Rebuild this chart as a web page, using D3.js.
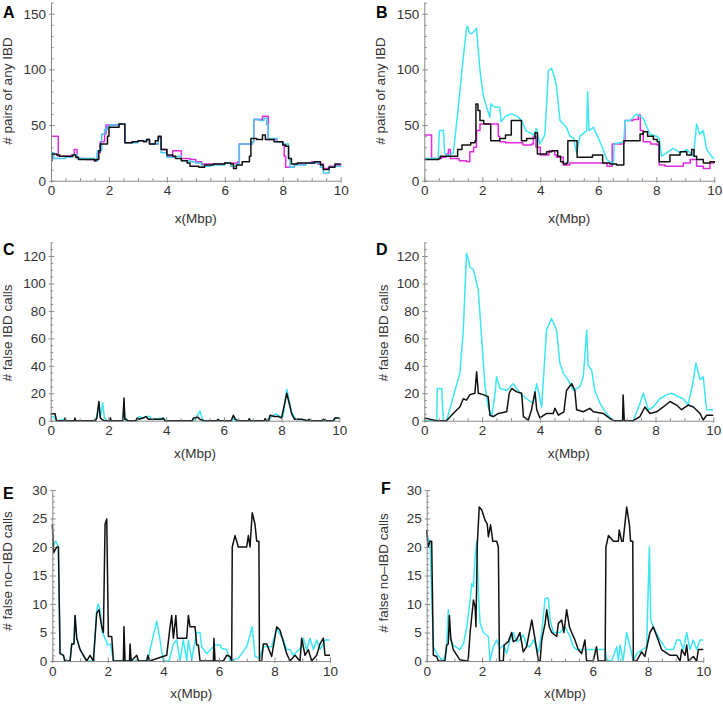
<!DOCTYPE html>
<html><head><meta charset="utf-8">
<script src="https://cdn.jsdelivr.net/npm/d3@7"></script>
<style>
body{margin:0;background:#fff;}
svg{font-family:"Liberation Sans",Arial,Helvetica,sans-serif;}
</style></head>
<body><svg id="c" width="723" height="706"></svg>
<script>
// ---------- data: [x (Mbp), value] ----------
const xTicks=[0,2,4,6,8,10];
const A_magenta=[[0,40],[0.2,40],[0.25,22],[0.5,22],[0.7,23],[0.8,28],[0.9,20],[1.2,19],[1.5,18],[1.6,25],[1.7,35],[1.85,42],[1.9,50],[2.1,50],[2.35,51],[2.5,51],[2.55,34],[2.8,35],[3.0,36],[3.3,37],[3.4,33],[3.7,39],[3.8,28],[4.0,22],[4.2,27],[4.4,27],[4.5,20],[4.8,19],[5.0,17],[5.2,15],[5.5,15],[6.0,16],[6.3,16],[6.45,17],[6.5,33],[6.95,35],[7.0,55],[7.2,55],[7.3,58],[7.45,58],[7.5,37],[7.8,35],[8.0,32],[8.05,22],[8.1,12],[8.3,12],[8.4,15],[8.8,16],[9.0,17],[9.2,15],[9.4,11],[9.6,13],[9.8,14],[10,15]];
const A_cyan=[[0,25],[0.1,20],[0.5,21],[0.75,23],[0.9,20],[1.5,18],[1.6,27],[1.75,42],[1.85,46],[1.95,49],[2.05,50],[2.35,51],[2.5,51],[2.55,34],[3.0,36],[3.3,37],[3.4,33],[3.7,38],[3.8,25],[4.0,21],[4.3,22],[4.5,18],[4.8,17],[5.0,16],[5.2,13],[5.5,14],[6.0,16],[6.2,13],[6.4,15],[6.5,33],[6.95,35],[7.0,55],[7.2,54],[7.35,56],[7.45,50],[7.5,38],[7.8,35],[8.0,33],[8.2,20],[8.25,12],[8.4,14],[8.8,16],[9.0,16],[9.3,12],[9.4,7],[9.6,12],[9.8,13],[10,12]];
const A_black=[[0,18],[0.03,24],[0.2,23],[0.3,22],[0.6,22],[0.75,23],[0.85,21],[0.95,19],[1.5,18],[1.55,19],[1.65,27],[1.7,33],[1.85,33],[1.95,40],[2.0,48],[2.3,48],[2.35,51],[2.5,51],[2.55,34],[2.8,35],[3.0,36],[3.2,35],[3.3,37],[3.4,33],[3.6,36],[3.7,40],[3.8,28],[4.0,23],[4.2,22],[4.3,20],[4.5,18],[4.7,16],[4.8,13],[5.1,12],[5.3,14],[5.6,15],[6.0,16],[6.2,15],[6.3,11],[6.4,14],[6.6,17],[6.85,22],[6.9,38],[7.1,37],[7.3,41],[7.4,37],[7.7,35],[8.0,32],[8.1,31],[8.2,20],[8.3,15],[8.5,16],[8.9,16],[9.1,17],[9.3,14],[9.4,10],[9.6,12],[9.8,15],[10,15]];

const B_magenta=[[0,41],[0.22,41],[0.25,20],[0.6,21],[0.75,24],[0.83,28],[0.9,20],[1.2,18],[1.46,17],[1.57,26],[1.7,30],[1.8,45],[1.92,51],[2.3,51],[2.5,51],[2.55,40],[2.6,35],[2.8,34],[3.1,34],[3.4,32],[3.7,33],[3.76,40],[3.85,30],[4.0,23],[4.3,27],[4.5,23],[4.56,21],[4.79,14],[5.02,16],[5.6,16],[6.06,16],[6.3,13],[6.4,13],[6.48,33],[6.88,35],[6.92,54],[7.2,55],[7.38,59],[7.45,45],[7.55,35],[7.8,33],[8.03,32],[8.1,14],[8.3,13],[8.6,13],[8.93,16],[9.17,19],[9.39,13],[9.62,11],[9.85,16],[10,16]];
const B_cyan=[[0,20],[0.48,20],[0.52,45],[0.66,45],[0.7,25],[0.83,22],[1.0,25],[1.15,60],[1.3,100],[1.46,138],[1.49,139],[1.55,133],[1.63,132],[1.75,135],[1.8,137],[1.92,99],[2.03,77],[2.15,66],[2.26,57],[2.3,69],[2.44,66],[2.6,66],[2.65,53],[2.8,58],[3.0,60],[3.2,58],[3.36,54],[3.5,45],[3.78,41],[3.87,47],[3.98,33],[4.1,38],[4.16,42],[4.28,99],[4.39,101],[4.5,92],[4.56,84],[4.68,54],[4.9,48],[5.02,40],[5.15,38],[5.25,25],[5.37,40],[5.6,45],[5.63,80],[5.68,45],[5.83,48],[5.94,42],[6.17,28],[6.29,19],[6.52,15],[6.55,33],[6.88,35],[6.92,54],[7.09,54],[7.32,60],[7.55,56],[7.78,42],[8.01,40],[8.1,38],[8.18,22],[8.59,29],[8.82,25],[9.05,28],[9.28,22],[9.39,51],[9.5,42],[9.62,45],[9.74,28],[9.97,20],[10,20]];
const B_black=[[0,19],[0.5,20],[0.55,22],[1.0,22],[1.15,28],[1.3,32],[1.6,34],[1.75,36],[1.78,69],[1.85,63],[1.92,54],[2.05,51],[2.27,51],[2.29,36],[2.6,38],[2.8,41],[2.95,41],[3.0,54],[3.32,54],[3.35,36],[3.53,38],[3.82,43],[3.9,24],[4.22,26],[4.4,27],[4.6,22],[4.7,17],[4.8,15],[4.9,16],[4.95,36],[5.25,36],[5.27,21],[5.6,21],[5.8,23],[6.1,23],[6.15,16],[6.4,15],[6.63,14],[6.86,14],[6.88,36],[7.2,36],[7.44,42],[7.55,44],[7.7,40],[7.9,37],[8.03,35],[8.1,17],[8.47,23],[8.82,26],[9.05,23],[9.22,28],[9.3,22],[9.39,19],[9.62,16],[9.85,17],[10,16]];

const C_cyan=[[0,3],[0.1,3],[0.2,0],[0.5,1],[0.55,0],[1.55,0],[1.6,3],[1.67,12],[1.72,2],[1.8,13],[1.86,2],[1.95,0],[2.5,0],[2.54,10],[2.58,0],[3.0,0],[3.05,3],[3.2,2],[3.3,3],[3.44,3],[3.5,1],[3.9,2],[4.0,0],[4.9,0],[5.0,1],[5.17,7],[5.25,2],[5.3,0],[6.3,0],[6.33,3],[6.4,0],[7.55,0],[7.65,3],[7.8,5],[7.95,3],[8.05,3],[8.18,23],[8.35,6],[8.5,1],[9.0,0],[9.8,0],[9.9,2],[10,2]];
const C_black=[[0,5],[0.15,5],[0.2,0],[0.48,0],[0.5,2],[0.52,0],[0.82,0],[0.84,2],[0.86,0],[1.55,0],[1.6,2],[1.67,14],[1.72,2],[1.77,1],[1.85,0],[2.05,0],[2.07,2],[2.09,0],[2.5,0],[2.54,16.5],[2.57,1],[2.63,1],[2.66,0],[2.95,0],[3.0,2],[3.05,1],[3.2,2],[3.3,3],[3.38,1],[3.6,1],[3.85,1],[3.9,2],[3.95,0],[4.9,0],[4.95,2],[5.1,2.5],[5.17,1],[5.3,0],[5.75,0],[5.8,1],[5.85,0],[6.25,0],[6.33,4],[6.4,1],[6.5,0],[6.85,0],[6.88,1.5],[6.92,0],[7.4,0],[7.43,1.5],[7.47,0],[7.55,0],[7.6,4],[7.75,3],[7.9,3],[8.0,2],[8.18,20],[8.35,5],[8.45,1],[8.7,1],[8.9,0],[8.95,1],[9.0,0],[9.4,0],[9.45,1],[9.55,0],[9.8,0],[9.85,2],[10,2]];

const D_cyan=[[0,0],[0.43,0],[0.45,23.5],[0.6,23.5],[0.66,0],[0.77,0],[1.0,17.5],[1.23,34.5],[1.35,66],[1.46,122],[1.52,118],[1.58,112],[1.7,110],[1.87,95],[1.98,61],[2.1,25],[2.21,10],[2.33,3],[2.45,20],[2.5,32],[2.62,23.5],[2.85,22],[3.08,27],[3.31,20],[3.54,16],[3.77,12.6],[3.89,27],[4.06,10],[4.23,66],[4.4,74.5],[4.58,66],[4.69,42],[4.81,34.5],[4.98,29.6],[5.16,22],[5.39,25],[5.5,32],[5.62,66],[5.67,40],[5.79,37],[5.9,22],[6.08,12.6],[6.31,5],[6.54,0],[7.23,0],[7.46,12.6],[7.58,20],[7.75,8],[7.92,10],[8.15,16],[8.39,19],[8.56,20],[8.79,17.5],[8.96,16],[9.13,11.4],[9.31,29.6],[9.4,42],[9.54,30],[9.65,32],[9.77,8],[10,8]];
const D_black=[[0,2],[0.1,1.5],[0.43,0],[0.77,0],[1.0,5.3],[1.23,10],[1.35,16],[1.46,15],[1.58,19],[1.75,20],[1.81,35.7],[1.87,20],[2.04,19],[2.21,17.5],[2.27,4],[2.39,3],[2.56,5.3],[2.85,6.5],[2.94,20],[3.02,23.5],[3.2,21],[3.37,20],[3.43,3],[3.6,0.5],[3.71,8],[3.83,21],[3.89,8],[4.0,2],[4.23,5.3],[4.46,5.3],[4.52,9],[4.64,4],[4.83,6.5],[4.92,22],[5.1,27],[5.21,22],[5.27,8],[5.5,6.5],[5.73,9],[5.85,6.5],[6.19,5.3],[6.42,1.7],[6.54,0],[6.86,0],[6.88,18.7],[6.92,0],[7.23,0],[7.46,3],[7.63,10],[7.81,5.3],[8.04,6.5],[8.27,10],[8.5,14],[8.73,11.4],[8.9,8],[9.13,11.4],[9.31,10],[9.54,5.3],[9.65,0.5],[9.77,4],[10,4]];

const E_cyan=[[0,20],[0.13,21],[0.22,20],[0.28,1.3],[0.4,1],[0.45,0],[0.64,0],[0.7,3],[0.78,3],[0.82,8],[0.88,4],[1.0,2],[1.24,0],[1.48,0],[1.6,9],[1.65,10],[1.72,9],[1.8,5],[1.9,4],[2.0,2.8],[2.1,3],[2.2,0],[3.45,0],[3.52,2],[3.76,7],[3.88,3.7],[4.0,0],[4.2,0],[4.36,3],[4.48,3.7],[4.6,0],[4.72,3.7],[4.84,0],[4.9,3.7],[5.02,0.2],[5.2,5],[5.32,5],[5.38,2.5],[5.56,1.3],[5.86,2.8],[6.04,2.8],[6.1,2.2],[6.28,2],[6.4,0],[6.7,0.5],[7.0,2.5],[7.2,6],[7.3,0.8],[7.46,0.5],[7.6,2.5],[7.9,2.5],[8.08,5.7],[8.32,3.7],[8.44,2],[8.56,2],[8.68,1],[8.98,2.5],[9.04,4],[9.16,2],[9.28,4],[9.4,2],[9.52,3.7],[9.64,2],[9.82,3.7],[10,3.7]];
const E_black=[[0,24],[0.05,19],[0.16,20],[0.22,20],[0.28,1.3],[0.4,1],[0.45,0],[0.64,0],[0.7,3],[0.78,3],[0.82,8],[0.88,4],[1.0,2],[1.24,0],[1.36,1],[1.48,0],[1.6,8.4],[1.68,9],[1.78,6],[1.84,5],[1.9,24],[1.96,24.9],[2.02,4.3],[2.14,4.3],[2.2,0],[2.56,0],[2.58,6],[2.62,0],[2.78,0],[2.8,3],[2.84,0],[3.04,1],[3.1,0],[3.4,0],[3.44,1],[3.5,0],[4.12,1],[4.24,6],[4.3,8],[4.36,4],[4.45,8],[4.5,4],[4.84,4],[4.9,8],[4.96,6],[5.14,6],[5.2,2.8],[5.26,2.8],[5.32,0],[5.8,0],[5.82,4],[5.86,0],[6.16,0],[6.28,1],[6.4,0.8],[6.46,0],[6.48,20],[6.58,22],[6.7,20],[7.0,20],[7.06,22],[7.12,20],[7.2,26],[7.3,24],[7.36,21],[7.44,21],[7.46,0],[7.54,0],[7.6,3],[7.72,3],[7.9,0.8],[8.08,6],[8.2,5.4],[8.44,1.3],[8.56,0],[8.74,1],[8.92,0],[8.98,4],[9.1,1],[9.22,2],[9.34,0],[9.52,1],[9.64,3],[9.76,4],[9.82,1],[10,1]];

const F_cyan=[[0,21.8],[0.12,21],[0.24,2.5],[0.4,1],[0.6,0],[0.72,2],[0.78,9],[0.87,3.7],[0.96,2.8],[1.2,2],[1.33,3],[1.45,6],[1.57,10.7],[1.63,13.6],[1.69,13],[1.75,18.3],[1.81,21],[1.87,11.9],[1.93,6.6],[2.05,5],[2.23,4.3],[2.29,0],[2.41,2.5],[2.53,3.7],[2.65,2.2],[2.77,2.8],[2.89,1.3],[3.01,3.7],[3.13,5],[3.25,3.4],[3.37,3.7],[3.49,4.6],[3.61,2.8],[3.73,2.5],[3.86,3.7],[4.04,1.6],[4.16,5],[4.28,11],[4.4,11],[4.46,7.2],[4.58,5],[4.82,5],[5.0,6],[5.18,4.3],[5.3,2.5],[5.42,2],[6.02,2],[6.45,2],[6.51,0.2],[6.69,0],[6.87,2.5],[6.93,0],[6.99,2.8],[7.1,0],[7.23,5],[7.35,2.5],[7.47,0],[7.59,1.3],[7.95,2.5],[8.05,20],[8.1,7.2],[8.19,6],[8.43,3.7],[8.67,2],[8.92,2],[9.04,3.7],[9.16,3.7],[9.28,2],[9.4,5],[9.52,2],[9.64,3.7],[9.76,2],[9.88,3.7],[10,3.7]];
const F_black=[[0,23],[0.05,20],[0.12,21],[0.18,21],[0.24,1],[0.36,0.8],[0.42,0],[0.66,0],[0.72,2.8],[0.78,3],[0.82,8],[0.87,4],[0.96,2],[1.2,0.2],[1.45,0],[1.5,0.2],[1.57,5],[1.69,10.7],[1.75,9.5],[1.78,6],[1.83,20.6],[1.9,27],[1.99,26.5],[2.11,24.7],[2.19,24],[2.23,21.8],[2.31,23.9],[2.39,21],[2.53,21],[2.59,20],[2.63,0],[2.77,0],[2.8,2.8],[2.95,3.4],[3.07,5],[3.13,3.4],[3.25,3.7],[3.37,5],[3.49,1.6],[3.61,2.5],[3.8,7.2],[3.92,3.7],[4.04,0],[4.1,0],[4.16,3.7],[4.28,6.6],[4.34,9],[4.43,6],[4.52,5],[4.7,4.3],[4.76,6.6],[4.88,7.2],[4.96,5],[5.06,9],[5.16,6],[5.24,5],[5.36,3.7],[5.48,2],[5.6,1.3],[5.72,3.7],[5.78,0],[6.02,0],[6.14,2.5],[6.2,0],[6.45,0],[6.48,20],[6.57,22],[6.75,21],[6.93,21],[6.96,23],[7.05,21],[7.1,21],[7.23,27],[7.33,23.9],[7.37,21],[7.45,21],[7.47,0],[7.59,0],[7.77,1.6],[7.89,0.8],[8.07,5],[8.19,6],[8.37,3.7],[8.49,2],[8.8,1],[9.04,1],[9.16,0],[9.22,2],[9.34,1],[9.4,2.8],[9.46,0],[9.64,0.8],[9.76,0],[9.82,2],[10,2]];

// ---------- layout ----------
const CYAN="#3ee6f2", CYAN_A="#46c8f2", MAG="#e22be0", BLK="#111111";
const panels=[
 {L:"A",x0:51,x1:340.7,yb:180.7,yt:2.6,ymax:160,maj:50,minr:10,title:"# pairs of any IBD",tcx:12,tcy:91,xtY:218,lx:3,ly:18,
  series:[[A_magenta,MAG,1],[A_cyan,CYAN_A,1],[A_black,BLK,1]]},
 {L:"B",x0:424.3,x1:714.3,yb:180.7,yt:2.6,ymax:160,maj:50,minr:10,title:"# pairs of any IBD",tcx:385,tcy:91,xtY:218,lx:376,ly:18,
  series:[[B_magenta,MAG,1],[B_cyan,CYAN,0],[B_black,BLK,1]]},
 {L:"C",x0:50.7,x1:339.3,yb:420.7,yt:242.3,ymax:130,maj:20,minr:5,title:"# false IBD calls",tcx:12,tcy:333,xtY:453,lx:3,ly:255,
  series:[[C_cyan,CYAN,0],[C_black,BLK,0]]},
 {L:"D",x0:424.3,x1:713.3,yb:420.7,yt:242.3,ymax:130,maj:20,minr:5,title:"# false IBD calls",tcx:388,tcy:333,xtY:453,lx:376,ly:255,
  series:[[D_cyan,CYAN,0],[D_black,BLK,0]]},
 {L:"E",x0:52.3,x1:330,yb:661,yt:490,ymax:30,maj:5,minr:1,title:"# false no–IBD calls",tcx:12,tcy:571,xtY:693,lx:3,ly:499,
  series:[[E_cyan,CYAN,0],[E_black,BLK,0]]},
 {L:"F",x0:426.7,x1:703.3,yb:661,yt:490,ymax:30,maj:5,minr:1,title:"# false no–IBD calls",tcx:388,tcy:573,xtY:693,lx:381,ly:494,
  series:[[F_cyan,CYAN,0],[F_black,BLK,0]]}
];

const svg=d3.select("#c");
const AX="#8a8a8a", TX="#333";
panels.forEach(p=>{
  const g=svg.append("g");
  const x=d3.scaleLinear().domain([0,10]).range([p.x0,p.x1]);
  const y=d3.scaleLinear().domain([0,p.ymax]).range([p.yb,p.yt]);
  const yMaj=d3.range(0,p.ymax+0.001,p.maj);
  const yMin=d3.range(0,p.ymax+0.001,p.minr).filter(v=>Math.abs(v/p.maj-Math.round(v/p.maj))>1e-6);
  const xMin=d3.range(0,10.001,0.5).filter(v=>xTicks.indexOf(v)<0);

  // lines
  p.series.forEach(([data,col,step])=>{
    const line=d3.line().x(d=>x(d[0])).y(d=>y(d[1])).curve(step?d3.curveStepAfter:d3.curveLinear);
    g.append("path").datum(data).attr("d",line).attr("fill","none")
      .attr("stroke",col).attr("stroke-width",1.5).attr("stroke-linejoin","round");
  });

  // x axis
  g.append("g").attr("transform",`translate(0,${p.yb})`)
    .call(d3.axisBottom(x).tickValues(xTicks).tickSize(2).tickSizeOuter(0).tickPadding(3));
  g.append("g").attr("transform",`translate(0,${p.yb})`)
    .call(d3.axisBottom(x).tickValues(xTicks).tickSize(-3.5).tickFormat("")).call(s=>s.select(".domain").remove());
  g.append("g").attr("transform",`translate(0,${p.yb})`)
    .call(d3.axisBottom(x).tickValues(xMin).tickSize(-2.5).tickFormat("")).call(s=>s.select(".domain").remove());
  // y axis
  g.append("g").attr("transform",`translate(${p.x0},0)`)
    .call(d3.axisLeft(y).tickValues(yMaj).tickSize(2).tickSizeOuter(0).tickPadding(3));
  g.append("g").attr("transform",`translate(${p.x0},0)`)
    .call(d3.axisLeft(y).tickValues(yMaj).tickSize(-3.5).tickFormat("")).call(s=>s.select(".domain").remove());
  g.append("g").attr("transform",`translate(${p.x0},0)`)
    .call(d3.axisLeft(y).tickValues(yMin).tickSize(-2.5).tickFormat("")).call(s=>s.select(".domain").remove());

  g.selectAll(".domain").attr("stroke",AX).attr("stroke-width",1);
  g.selectAll(".tick line").attr("stroke",AX).attr("stroke-width",1);
  g.selectAll(".tick text").attr("fill",TX).style("font-size","13.5px").style("font-family","'Liberation Sans',Arial,sans-serif");

  // titles
  g.append("text").attr("transform",`translate(${p.tcx},${p.tcy}) rotate(-90)`)
    .attr("text-anchor","middle").attr("fill",TX).style("font-size","13.5px").text(p.title);
  g.append("text").attr("x",(p.x0+p.x1)/2).attr("y",p.xtY+5)
    .attr("text-anchor","middle").attr("fill",TX).style("font-size","13.5px").text("x(Mbp)");
  g.append("text").attr("x",p.lx).attr("y",p.ly).attr("fill","#000")
    .style("font-size","16px").style("font-weight","bold").text(p.L);
});
</script></body></html>
